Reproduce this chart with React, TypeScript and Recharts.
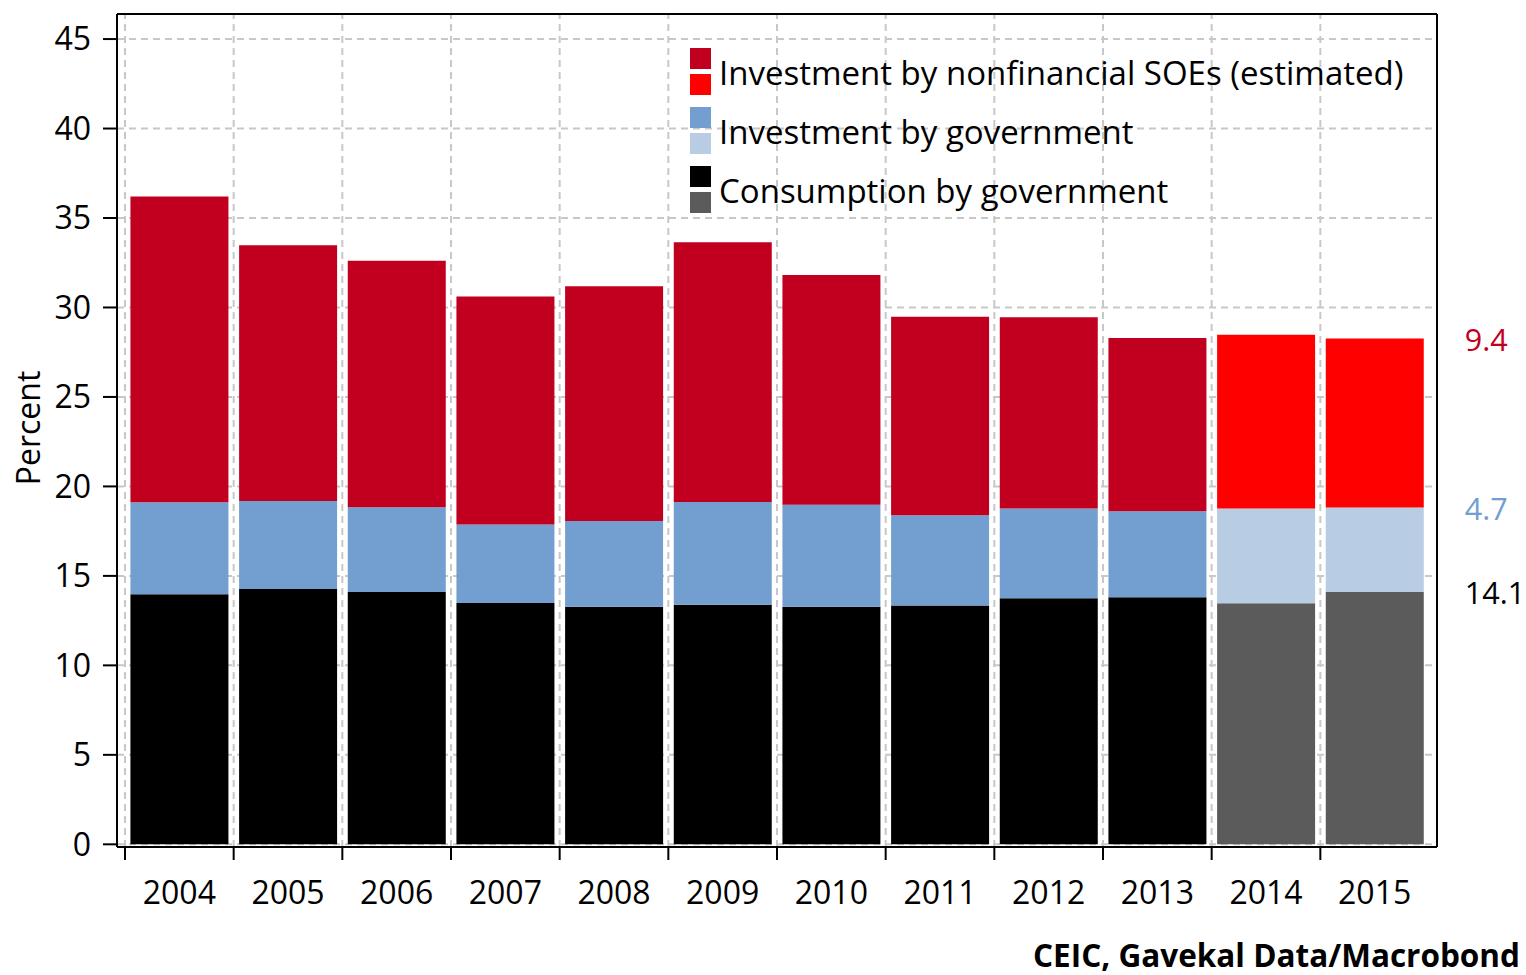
import { Bar, BarChart, CartesianGrid, Cell, LabelList, ReferenceLine, XAxis, YAxis } from "recharts"

const years = ["2004", "2005", "2006", "2007", "2008", "2009", "2010", "2011", "2012", "2013", "2014", "2015"]
const estimated = [false, false, false, false, false, false, false, false, false, false, true, true]

// share of GDP, percent
const consumption = [13.98, 14.27, 14.1, 13.49, 13.28, 13.39, 13.28, 13.34, 13.75, 13.81, 13.47, 14.1]
const govInvestment = [5.14, 4.92, 4.74, 4.38, 4.79, 5.74, 5.69, 5.05, 5.01, 4.8, 5.29, 4.72]
const soeInvestment = [17.08, 14.29, 13.77, 12.74, 13.12, 14.52, 12.85, 11.09, 10.7, 9.69, 9.71, 9.44]

const yTicks = [0, 5, 10, 15, 20, 25, 30, 35, 40, 45]

const series = [
  { key: "consumption", name: "Consumption by government", values: consumption, color: "#000000", estColor: "#5b5b5b", labelColor: "#000000" },
  { key: "govInvestment", name: "Investment by government", values: govInvestment, color: "#729fcf", estColor: "#b8cce4", labelColor: "#729fcf" },
  { key: "soeInvestment", name: "Investment by nonfinancial SOEs (estimated)", values: soeInvestment, color: "#c10020", estColor: "#ff0000", labelColor: "#c10020" },
]

const data = years.map((year, i) => ({
  year,
  consumption: consumption[i],
  govInvestment: govInvestment[i],
  soeInvestment: soeInvestment[i],
}))

const FONT = "'Open Sans', sans-serif"
const W = 1526
const H = 975
const Y_AXIS_W = 60
const RIGHT_AXIS_W = 10
const X_PAD = 8
const margin = { top: 4, right: 79, bottom: 68, left: 57 }
const plotLeft = margin.left + Y_AXIS_W
const plotRight = W - margin.right - RIGHT_AXIS_W
const band = (plotRight - plotLeft - 2 * X_PAD) / years.length

const gridStyle = { stroke: "#c8c8c8", strokeWidth: 2, strokeDasharray: "7 5" }
const axisStyle = { stroke: "#000", strokeWidth: 2 }

function XTick({ x, y, payload }: any) {
  const bx = x - band / 2
  return (
    <g>
      <line x1={bx} x2={bx} y1={y} y2={y + 13} stroke="#000" strokeWidth={2} />
      <text x={x} y={y + 57} textAnchor="middle" fontSize={32} fill="#000" fontFamily={FONT}>
        {payload.value}
      </text>
    </g>
  )
}

const endLabel = (values: number[], color: string) => (props: any) => {
  const { index } = props
  if (index !== values.length - 1) return null
  const vb = props.viewBox ?? props
  const x = vb.x ?? props.x
  const y = vb.y ?? props.y
  const width = vb.width ?? props.width
  return (
    <text x={x + width + 41} y={y} dominantBaseline="central" fontSize={30.5} fill={color} fontFamily={FONT}>
      {values[index].toFixed(1)}
    </text>
  )
}

function Legend() {
  const rows = [...series].reverse()
  return (
    <g fontFamily={FONT}>
      {rows.map((s, i) => (
        <g key={s.key} transform={`translate(690, ${48 + i * 59})`}>
          <rect x={0} y={0} width={21} height={21} fill={s.color} />
          <rect x={0} y={26} width={21} height={21} fill={s.estColor} />
          <text x={29} y={37} fontSize={33} fill="#000">
            {s.name}
          </text>
        </g>
      ))}
    </g>
  )
}

export default function App() {
  return (
    <div style={{ position: "absolute", left: 0, top: 0, width: W, height: H, background: "#fff" }}>
      <BarChart width={W} height={H} data={data} margin={margin} barCategoryGap="5%">
        <CartesianGrid vertical={false} {...gridStyle} />
        {years.map((yr) => (
          <ReferenceLine key={yr} x={yr} position="start" {...gridStyle} />
        ))}
        <XAxis
          dataKey="year"
          interval={0}
          height={60}
          padding={{ left: X_PAD, right: X_PAD }}
          tickLine={false}
          tickSize={0}
          tickMargin={0}
          axisLine={axisStyle}
          tick={<XTick />}
        />
        <XAxis xAxisId="top" orientation="top" dataKey="year" height={10} tick={false} tickLine={false} axisLine={axisStyle} />
        <YAxis
          width={Y_AXIS_W}
          domain={[-0.15, 46.4]}
          ticks={yTicks}
          allowDataOverflow
          tickSize={14}
          tickMargin={12}
          tickLine={axisStyle}
          axisLine={axisStyle}
          tick={{ fontSize: 32, fill: "#000", fontFamily: FONT }}
        />
        <YAxis yAxisId="right" orientation="right" width={RIGHT_AXIS_W} tick={false} tickLine={false} axisLine={axisStyle} />
        {series.map((s) => (
          <Bar key={s.key} dataKey={s.key} name={s.name} stackId="a" fill={s.color} isAnimationActive={false}>
            {data.map((d, i) => (
              <Cell key={d.year} fill={estimated[i] ? s.estColor : s.color} />
            ))}
            <LabelList dataKey={s.key} content={endLabel(s.values, s.labelColor)} />
          </Bar>
        ))}
      </BarChart>
      <svg width={W} height={H} style={{ position: "absolute", left: 0, top: 0, pointerEvents: "none" }}>
        <Legend />
        <text x={40} y={428} transform="rotate(-90 40 428)" textAnchor="middle" fontSize={32} fill="#000" fontFamily={FONT}>
          Percent
        </text>
        <text x={1520} y={967} textAnchor="end" fontSize={31.5} fontWeight="bold" fill="#000" fontFamily={FONT}>
          CEIC, Gavekal Data/Macrobond
        </text>
      </svg>
    </div>
  )
}
